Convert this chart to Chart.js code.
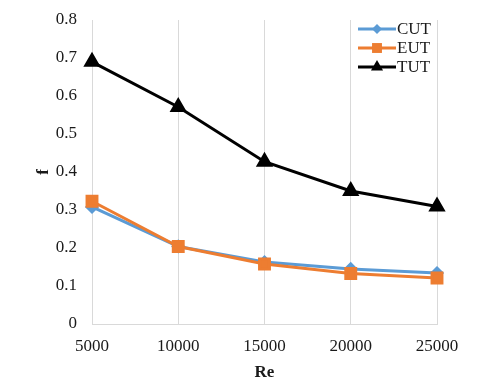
<!DOCTYPE html>
<html><head><meta charset="utf-8">
<script src="https://cdn.jsdelivr.net/npm/chart.js@4/dist/chart.umd.min.js"></script>
<style>html,body{margin:0;padding:0;background:#fff}#wrap{width:480px;height:390px}</style>
</head><body><div id="wrap"><canvas id="c" width="480" height="390"></canvas></div>
<script>
const categories = ['5000', '10000', '15000', '20000', '25000'];
const cutValues = [0.308, 0.204, 0.163, 0.145, 0.134];
const eutValues = [0.323, 0.204, 0.158, 0.133, 0.121];
const tutValues = [0.690, 0.571, 0.427, 0.350, 0.309];
const seriesNames = ['CUT', 'EUT', 'TUT'];
const yTickValues = [0, 0.1, 0.2, 0.3, 0.4, 0.5, 0.6, 0.7, 0.8];
const xTitle = 'Re';
const yTitle = 'f';

const SERIF = "'Liberation Serif', 'Times New Roman', serif";
const GRID = '#d9d9d9';
const TEXT = '#1a1a1a';

function drawMarker(ctx, style, x, y, r, color) {
  ctx.save();
  ctx.fillStyle = color;
  ctx.beginPath();
  if (style === 'rectRot') {
    ctx.moveTo(x, y - r); ctx.lineTo(x + r, y); ctx.lineTo(x, y + r); ctx.lineTo(x - r, y);
  } else if (style === 'rect') {
    const s = r * Math.SQRT1_2;
    ctx.rect(x - s, y - s, 2 * s, 2 * s);
  } else {
    ctx.moveTo(x, y - r); ctx.lineTo(x + r * 0.866, y + r * 0.5); ctx.lineTo(x - r * 0.866, y + r * 0.5);
  }
  ctx.closePath();
  ctx.fill();
  ctx.restore();
}

const lineLegend = {
  id: 'lineLegend',
  afterDraw(chart) {
    const ctx = chart.ctx;
    const area = chart.chartArea;
    const xStart = area.right - 79, xEnd = area.right - 41;
    const yStart = area.top + 9, dy = 19;
    chart.data.datasets.forEach((ds, i) => {
      const y = yStart + i * dy;
      ctx.save();
      ctx.strokeStyle = ds.borderColor;
      ctx.lineWidth = 3;
      ctx.beginPath(); ctx.moveTo(xStart, y); ctx.lineTo(xEnd, y); ctx.stroke();
      drawMarker(ctx, ds.pointStyle, (xStart + xEnd) / 2, y, ds.pointRadius, ds.pointBackgroundColor);
      ctx.fillStyle = TEXT;
      ctx.font = '17px ' + SERIF;
      ctx.textBaseline = 'middle';
      ctx.textAlign = 'left';
      ctx.fillText(ds.label, xEnd + 1, y + 1);
      ctx.restore();
    });
  }
};

new Chart(document.getElementById('c'), {
  type: 'line',
  data: {
    labels: categories,
    datasets: [
      { label: seriesNames[0], data: cutValues, borderColor: '#5B9BD5', backgroundColor: '#5B9BD5',
        pointBackgroundColor: '#5B9BD5', pointBorderColor: '#5B9BD5', pointStyle: 'rectRot', pointRadius: 5,
        borderWidth: 3, tension: 0, order: 2 },
      { label: seriesNames[1], data: eutValues, borderColor: '#ED7D31', backgroundColor: '#ED7D31',
        pointBackgroundColor: '#ED7D31', pointBorderColor: '#ED7D31', pointStyle: 'rect', pointRadius: 7,
        borderWidth: 3, tension: 0, order: 1 },
      { label: seriesNames[2], data: tutValues, borderColor: '#000000', backgroundColor: '#000000',
        pointBackgroundColor: '#000000', pointBorderColor: '#000000', pointStyle: 'triangle', pointRadius: 7,
        borderWidth: 3, tension: 0, order: 0 }
    ]
  },
  options: {
    responsive: false,
    animation: false,
    layout: { padding: { left: 0, right: 43, top: 20, bottom: 0 } },
    plugins: { legend: { display: false }, tooltip: { enabled: false } },
    scales: {
      x: {
        type: 'category',
        offset: false,
        grid: { color: GRID, lineWidth: 1, drawTicks: false },
        border: { color: GRID, width: 1 },
        ticks: { color: TEXT, font: { family: SERIF, size: 17 }, padding: 12, maxRotation: 0 },
        title: { display: true, text: xTitle, color: TEXT, font: { family: SERIF, size: 17, weight: 'bold' }, padding: { top: 0, bottom: 7 } },
        afterFit(scale) { scale.height = 66; scale.paddingLeft = 0; scale.paddingRight = 0; }
      },
      y: {
        min: 0, max: 0.8,
        afterBuildTicks(scale) { scale.ticks = yTickValues.map(v => ({ value: v })); },
        grid: { color: 'rgba(0,0,0,0)', drawTicks: false },
        border: { color: GRID, width: 1 },
        ticks: { color: TEXT, font: { family: SERIF, size: 17 }, padding: 15,
          callback: v => (v === 0 ? '0' : Number(v).toFixed(1)) },
        title: { display: true, text: yTitle, color: TEXT, font: { family: SERIF, size: 17, weight: 'bold' }, padding: { top: 33, bottom: 0 } },
        afterFit(scale) { scale.width = 92; scale.paddingTop = 0; scale.paddingBottom = 0; }
      }
    }
  },
  plugins: [lineLegend]
});
</script>
</body></html>
